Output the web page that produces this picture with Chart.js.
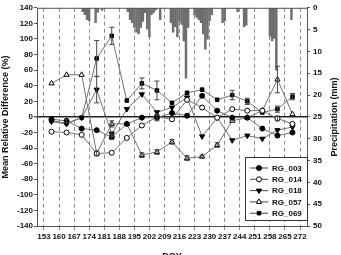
<!DOCTYPE html>
<html>
<head>
<meta charset="utf-8">
<script src="https://cdn.jsdelivr.net/npm/chart.js@4.4.0/dist/chart.umd.min.js"></script>
<style>
  html, body { margin: 0; padding: 0; background: #fff; }
</style>
</head>
<body>
<canvas id="graph1" width="341" height="255"></canvas>
<script>
// weekly points, plotted mid-week (DOY)
const doy = [156.5, 163.5, 170.5, 177.5, 184.5, 191.5, 198.5, 205.5, 212.5, 219.5, 226.5, 233.5, 240.5, 247.5, 254.5, 261.5, 268.5];
const xTicks = [153, 160, 167, 174, 181, 188, 195, 202, 209, 216, 223, 230, 237, 244, 251, 258, 265, 272];

// mean relative difference (%)
const rg003 = [-3, -5, -15, -17, -26, -9, -1, -1, 5, 1.5, 27, 8, -1, -1, -15, -24, -20];
const rg014 = [-19, -20, -23, -47, -46, -27, -11, 0, -3, 22, 12, -1, 10, 8, 8, -2, -9];
const rg018 = [-6, -9, -1, 35, -22, 10, 29, 6, 12, 25, -25, -1, -30, -24, -28, -17, -13];
const rg057 = [43, 54, 54, -47, -9, -9, -49, -45, -32, -53, -51, -36, -5, -1, 8, 48, 3.5];
const rg069 = [-5, -8, -1, 75, 104, 21, 43, 34, 18, 31, 35, 22, 28, 20, 5.6, 10, 26];

// error bar half widths (%)
const err003 = [0, 2, 0, 0, 3, 0, 0, 4, 0, 0, 0, 0, 0, 0, 0, 0, 0];
const err014 = [0, 0, 0, 0, 0, 0, 0, 0, 0, 0, 0, 0, 0, 0, 0, 3, 0];
const err018 = [0, 0, 0, 17, 3, 0, 0, 0, 0, 0, 0, 0, 0, 0, 0, 0, 0];
const err057 = [0, 0, 0, 3, 4, 0, 3, 3, 3, 3, 2, 3, 0, 0, 0, 17, 0];
const err069 = [0, 0, 0, 23, 11, 0, 7, 12, 0, 0, 0, 0, 6, 4, 0, 4, 4];

// daily precipitation (mm)
const precipDay = [171, 172, 173, 174, 177, 178, 180,
  192, 193, 194, 195, 196, 197, 198, 199, 200, 201, 202, 203, 204, 205, 207,
  212, 213, 214, 215, 216, 217, 218, 219, 220,
  223, 224, 225, 226, 227, 228, 229, 230, 231,
  236, 237, 243, 246, 247, 258, 259, 260, 261, 268];
const precipMm = [0.9, 1.6, 2.7, 3.0, 3.4, 1.0, 0.6,
  0.9, 2.7, 3.4, 4.5, 5.6, 6.0, 4.5, 3.1, 1.1, 4.9, 6.7, 1.6, 1.1, 0.5, 2.7,
  3.4, 5.6, 4.3, 6.7, 3.1, 3.8, 7.6, 16.1, 4.5,
  1.6, 2.2, 2.7, 3.4, 6.0, 9.5, 7.2, 3.0, 1.6,
  3.4, 3.0, 0.9, 4.3, 4.0, 6.5, 7.6, 7.0, 14.3, 2.7];

const FONT = "'Liberation Sans', Arial, sans-serif";

function pts(values) {
    return values.map((v, i) => ({x: doy[i], y: v}));
}

function series(label, values, errors, style) {
    return Object.assign({
        type: 'line',
        label: label,
        data: pts(values),
        errors: errors,
        yAxisID: 'y',
        borderColor: '#707070',
        borderWidth: 1,
        pointBorderColor: '#000',
        pointBorderWidth: 1,
        pointRadius: 2.5,
        tension: 0,
        order: 1
    }, style);
}

// error bars drawn through the y scale
const errorBars = {
    id: 'errorBars',
    afterDatasetsDraw(chart) {
        const ctx = chart.ctx;
        const y = chart.scales.y;
        ctx.save();
        ctx.strokeStyle = '#444';
        ctx.lineWidth = 1;
        chart.data.datasets.forEach((ds, di) => {
            if (!ds.errors) return;
            const meta = chart.getDatasetMeta(di);
            ds.errors.forEach((e, i) => {
                if (!e) return;
                const px = meta.data[i].x;
                const top = y.getPixelForValue(ds.data[i].y + e);
                const bot = y.getPixelForValue(ds.data[i].y - e);
                ctx.beginPath();
                ctx.moveTo(px, top); ctx.lineTo(px, bot);
                ctx.moveTo(px - 2.5, top); ctx.lineTo(px + 2.5, top);
                ctx.moveTo(px - 2.5, bot); ctx.lineTo(px + 2.5, bot);
                ctx.stroke();
            });
        });
        ctx.restore();
    }
};

// frame, right title, x title, legend box
const decor = {
    id: 'decor',
    afterDraw(chart) {
        const ctx = chart.ctx;
        const a = chart.chartArea;
        ctx.save();
        ctx.strokeStyle = '#555';
        ctx.lineWidth = 1;
        ctx.strokeRect(a.left + 0.5, a.top + 0.5, a.right - a.left, a.bottom - a.top);

        ctx.fillStyle = '#111';
        ctx.font = 'bold 9px ' + FONT;
        ctx.textAlign = 'center';
        ctx.textBaseline = 'middle';
        ctx.save();
        ctx.translate(335, (a.top + a.bottom) / 2);
        ctx.rotate(-Math.PI / 2);
        ctx.fillText('Precipitation (mm)', 0, 0);
        ctx.restore();

        ctx.textBaseline = 'top';
        ctx.fillText('DOY', (a.left + a.right) / 2, 252);

        // legend
        const bx = a.right - 62, by = a.bottom - 69, bw = 62, bh = 63;
        ctx.fillStyle = '#fff';
        ctx.fillRect(bx, by, bw, bh);
        ctx.strokeStyle = '#333';
        ctx.strokeRect(bx + 0.5, by + 0.5, bw, bh);
        ctx.font = 'bold 8px ' + FONT;
        ctx.textAlign = 'left';
        ctx.textBaseline = 'middle';
        chart.data.datasets.filter(d => d.type === 'line').forEach((d, i) => {
            const ly = by + 11 + i * 11.3;
            ctx.strokeStyle = '#444';
            ctx.lineWidth = 1;
            ctx.beginPath();
            ctx.moveTo(bx + 5, ly); ctx.lineTo(bx + 23, ly);
            ctx.stroke();
            ctx.fillStyle = d.pointBackgroundColor;
            ctx.strokeStyle = '#000';
            Chart.helpers.drawPoint(ctx, {
                pointStyle: d.pointStyle,
                rotation: d.pointRotation || 0,
                radius: d.pointRadius,
                borderWidth: 1
            }, bx + 14, ly);
            ctx.fillStyle = '#111';
            ctx.fillText(d.label, bx + 27, ly + 0.5);
        });
        ctx.restore();
    }
};

function createChart() {
    const ctx = document.getElementById('graph1');
    new Chart(ctx, {
        type: 'line',
        data: {
            datasets: [
                series('RG_003', rg003, err003, {pointStyle: 'circle', pointBackgroundColor: '#000'}),
                series('RG_014', rg014, err014, {pointStyle: 'circle', pointBackgroundColor: '#fff'}),
                series('RG_018', rg018, err018, {pointStyle: 'triangle', pointRotation: 180, pointRadius: 3, pointBackgroundColor: '#000'}),
                series('RG_057', rg057, err057, {pointStyle: 'triangle', pointRadius: 3, pointBackgroundColor: '#fff'}),
                series('RG_069', rg069, err069, {pointStyle: 'rect', pointRadius: 2.5, pointBackgroundColor: '#000'}),
                {
                    type: 'bar',
                    label: 'Precipitation',
                    data: precipDay.map((d, i) => ({x: d, y: precipMm[i]})),
                    yAxisID: 'yR',
                    backgroundColor: '#6e6e6e',
                    borderWidth: 0,
                    barThickness: 1.8,
                    order: 10
                }
            ]
        },
        options: {
            responsive: false,
            animation: false,
            layout: { padding: {top: 4, left: 0, right: 0, bottom: 0} },
            scales: {
                x: {
                    type: 'linear',
                    min: 149.75,
                    max: 275.25,
                    offset: false,
                    afterBuildTicks: axis => { axis.ticks = xTicks.map(v => ({value: v})); },
                    afterFit: axis => { axis.height = 29; },
                    ticks: {
                        autoSkip: false,
                        maxRotation: 0,
                        padding: 2,
                        color: '#111',
                        font: {family: FONT, size: 8, weight: 'bold'}
                    },
                    grid: {color: '#8c8c8c', lineWidth: 1, tickLength: 4, offset: false},
                    border: {display: false, dash: [4, 3]}
                },
                y: {
                    position: 'left',
                    min: -140,
                    max: 140,
                    afterFit: axis => { axis.width = 37; },
                    ticks: {
                        stepSize: 20,
                        padding: 1,
                        color: '#111',
                        font: {family: FONT, size: 8, weight: 'bold'}
                    },
                    grid: {
                        color: c => (c.tick && c.tick.value === 0) ? '#222' : 'rgba(0,0,0,0)',
                        lineWidth: c => (c.tick && c.tick.value === 0) ? 1.5 : 1,
                        tickColor: '#555',
                        tickLength: 3
                    },
                    border: {display: false},
                    title: {
                        display: true,
                        text: 'Mean Relative Difference (%)',
                        color: '#111',
                        padding: {top: 0, bottom: 1},
                        font: {family: FONT, size: 9, weight: 'bold'}
                    }
                },
                yR: {
                    position: 'right',
                    reverse: true,
                    min: 0,
                    max: 50,
                    afterFit: axis => { axis.width = 34; },
                    ticks: {
                        stepSize: 5,
                        padding: 3,
                        color: '#111',
                        font: {family: FONT, size: 8, weight: 'bold'}
                    },
                    grid: {drawOnChartArea: false, tickColor: '#555', tickLength: 3},
                    border: {display: false}
                }
            },
            plugins: {
                legend: {display: false},
                tooltip: {enabled: false}
            }
        },
        plugins: [errorBars, decor]
    });
}

createChart();
</script>
</body>
</html>
